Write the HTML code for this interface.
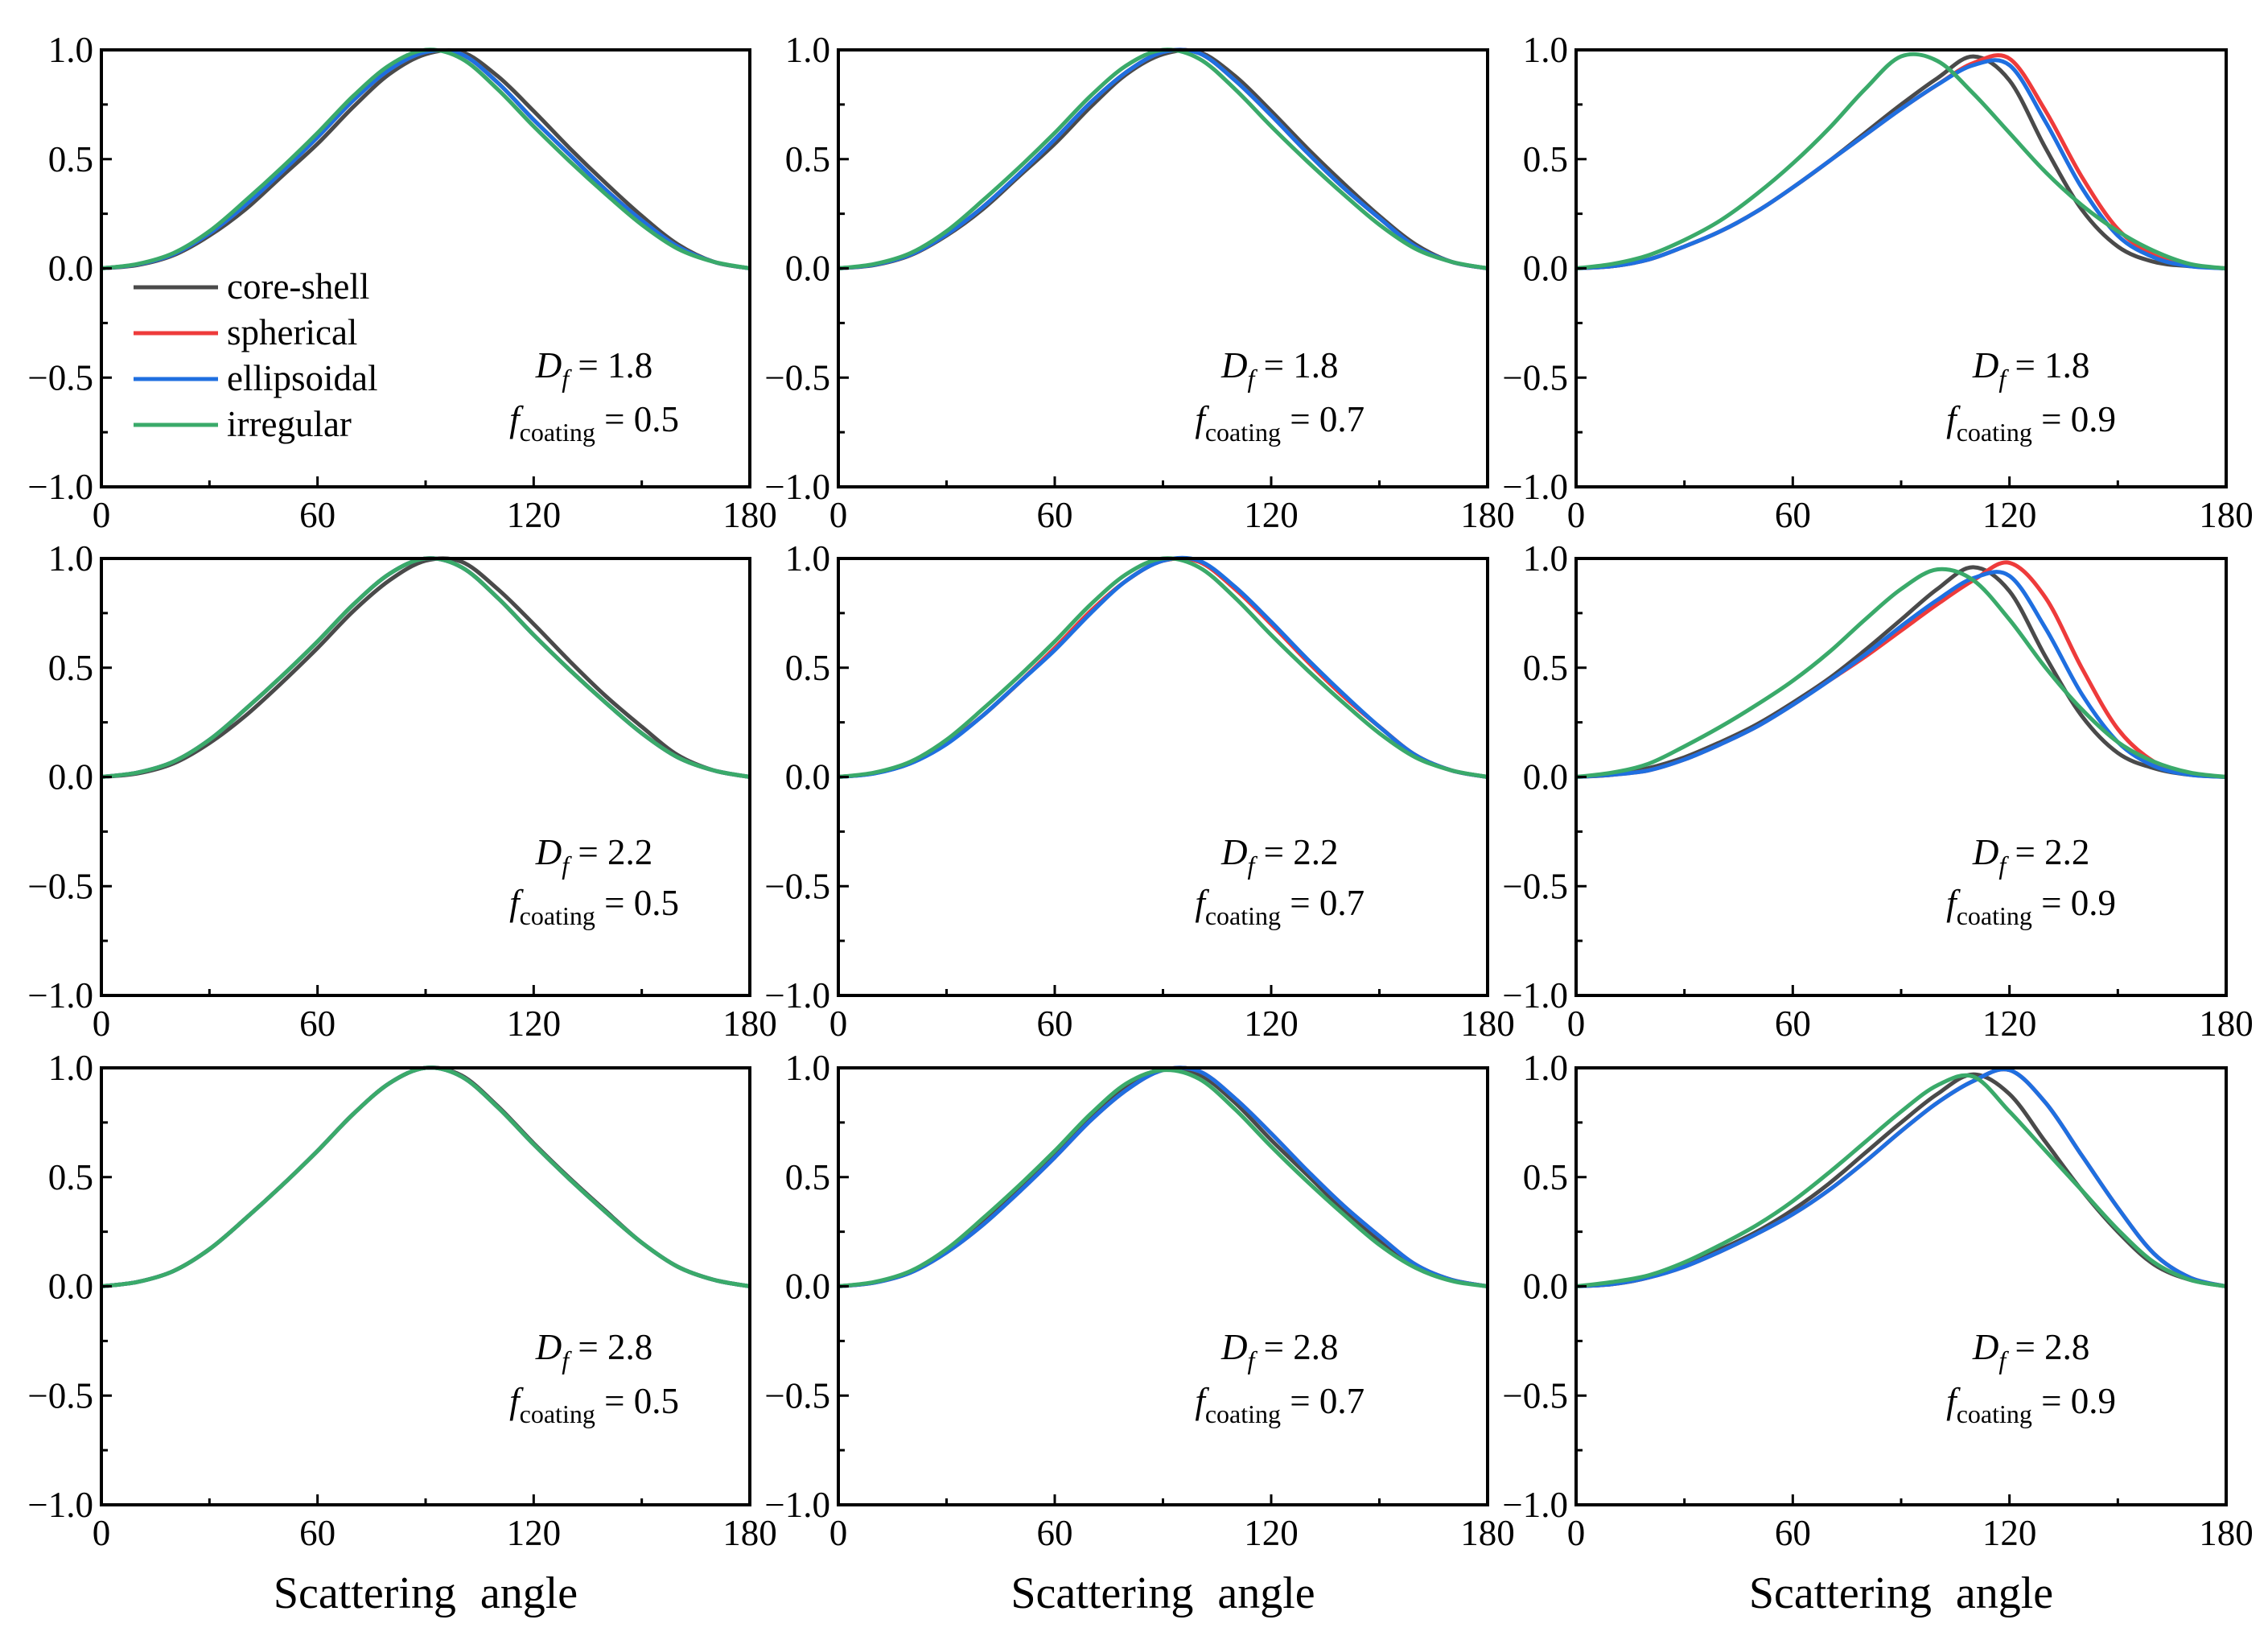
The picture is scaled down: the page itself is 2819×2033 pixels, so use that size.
<!DOCTYPE html>
<html><head><meta charset="utf-8"><style>
html,body{margin:0;padding:0;background:#fff}
svg{display:block}
text{font-family:"Liberation Serif",serif;fill:#000}
</style></head><body>
<svg id="fig" width="2819" height="2033" viewBox="0 0 2819 2033" xmlns="http://www.w3.org/2000/svg"></svg>
<script>
// ---- data ----
const angles=[0,10,20,30,40,50,60,70,80,90,100,110,120,130,140,150,160,170,180];
const seriesNames=["core-shell","spherical","ellipsoidal","irregular"];
const dfLabels=["1.8","1.8","1.8","2.2","2.2","2.2","2.8","2.8","2.8"];
const fcLabels=["0.5","0.7","0.9","0.5","0.7","0.9","0.5","0.7","0.9"];
const xTicks=[0,60,120,180];
const yTicks=[-1.0,-0.5,0.0,0.5,1.0];
const yTickLabels=["\u22121.0","\u22120.5","0.0","0.5","1.0"];
// panel 1 (Df 1.8, f 0.5)
const p1cs=[0,.015,.06,.15,.27,.42,.57,.74,.89,.98,.99,.88,.72,.55,.39,.24,.11,.03,0];
const p1sp=[0,.018,.065,.16,.29,.44,.60,.77,.91,.99,.98,.85,.68,.52,.36,.22,.10,.03,0];
const p1el=[0,.018,.065,.16,.29,.44,.60,.77,.91,.99,.98,.85,.68,.52,.36,.22,.10,.03,0];
const p1ir=[0,.02,.07,.17,.31,.46,.62,.79,.93,1.0,.96,.82,.65,.49,.34,.20,.09,.03,0];
// panel 2 (Df 1.8, f 0.7)
const p2cs=[0,.015,.06,.15,.27,.42,.57,.74,.89,.98,.99,.88,.72,.55,.39,.24,.11,.03,0];
const p2sp=[0,.017,.063,.155,.28,.43,.59,.76,.90,.99,.985,.86,.70,.53,.37,.23,.10,.03,0];
const p2el=[0,.017,.063,.155,.28,.43,.59,.76,.90,.99,.985,.86,.70,.53,.37,.23,.10,.03,0];
const p2ir=[0,.02,.07,.17,.31,.46,.62,.79,.93,1.0,.96,.82,.65,.49,.34,.20,.09,.03,0];
// panel 3 (Df 1.8, f 0.9)
const p3cs=[0,.01,.04,.10,.17,.26,.37,.49,.62,.75,.87,.97,.86,.55,.27,.10,.03,.01,0];
const p3sp=[0,.01,.04,.10,.17,.26,.37,.49,.61,.73,.84,.94,.96,.72,.42,.18,.06,.015,0];
const p3el=[0,.01,.04,.10,.17,.26,.37,.49,.61,.73,.84,.93,.93,.67,.37,.15,.05,.01,0];
const p3ir=[0,.02,.06,.13,.22,.34,.48,.64,.82,.97,.95,.80,.62,.44,.29,.17,.08,.02,0];
// panel 4 (Df 2.2, f 0.5)
const p4cs=[0,.016,.062,.155,.28,.43,.59,.76,.90,.99,.985,.86,.70,.53,.37,.23,.10,.03,0];
const p4sp=[0,.02,.07,.17,.31,.46,.62,.79,.93,1.0,.96,.82,.65,.49,.34,.20,.09,.03,0];
const p4el=[0,.02,.07,.17,.31,.46,.62,.79,.93,1.0,.96,.82,.65,.49,.34,.20,.09,.03,0];
const p4ir=[0,.02,.07,.17,.31,.46,.62,.79,.93,1.0,.96,.82,.65,.49,.34,.20,.09,.03,0];
// panel 5 (Df 2.2, f 0.7)
const p5cs=[0,.017,.063,.155,.28,.43,.59,.76,.90,.99,.985,.86,.70,.53,.37,.23,.10,.03,0];
const p5sp=[0,.017,.063,.155,.28,.43,.59,.76,.90,.99,.985,.86,.70,.53,.37,.23,.10,.03,0];
const p5el=[0,.016,.062,.15,.28,.43,.58,.75,.90,.99,.99,.87,.71,.54,.38,.23,.10,.03,0];
const p5ir=[0,.02,.07,.17,.31,.46,.62,.79,.93,1.0,.96,.82,.65,.49,.34,.20,.09,.03,0];
// panel 6 (Df 2.2, f 0.9)
const p6cs=[0,.01,.04,.09,.16,.24,.34,.45,.58,.72,.86,.96,.85,.55,.28,.11,.04,.01,0];
const p6sp=[0,.01,.03,.08,.15,.23,.33,.44,.55,.67,.79,.90,.98,.82,.50,.22,.07,.015,0];
const p6el=[0,.01,.03,.08,.15,.23,.33,.44,.56,.69,.81,.91,.92,.68,.38,.16,.05,.01,0];
const p6ir=[0,.02,.06,.14,.23,.33,.44,.57,.72,.86,.95,.90,.72,.50,.31,.16,.07,.02,0];
// panel 7 (Df 2.8, f 0.5)
const p7cs=[0,.02,.07,.17,.31,.46,.62,.79,.93,1.0,.965,.825,.655,.495,.345,.20,.09,.03,0];
const p7sp=[0,.02,.07,.17,.31,.46,.62,.79,.93,1.0,.96,.82,.65,.49,.34,.20,.09,.03,0];
const p7el=[0,.02,.07,.17,.31,.46,.62,.79,.93,1.0,.96,.82,.65,.49,.34,.20,.09,.03,0];
const p7ir=[0,.02,.07,.17,.31,.46,.62,.79,.93,1.0,.96,.82,.65,.49,.34,.20,.09,.03,0];
// panel 8 (Df 2.8, f 0.7)
const p8cs=[0,.018,.066,.16,.30,.45,.61,.78,.92,.995,.97,.84,.67,.51,.35,.21,.095,.03,0];
const p8sp=[0,.017,.063,.155,.28,.43,.59,.76,.90,.99,.985,.86,.70,.53,.37,.23,.10,.03,0];
const p8el=[0,.017,.063,.155,.28,.43,.59,.76,.90,.99,.985,.86,.70,.53,.37,.23,.10,.03,0];
const p8ir=[0,.02,.07,.17,.31,.46,.62,.79,.93,.99,.95,.81,.64,.48,.33,.19,.085,.025,0];
// panel 9 (Df 2.8, f 0.9)
const p9cs=[0,.01,.04,.10,.17,.25,.35,.47,.61,.75,.88,.97,.88,.66,.44,.25,.10,.03,0];
const p9sp=[0,.01,.04,.09,.16,.24,.33,.44,.57,.71,.84,.94,.99,.84,.60,.36,.15,.04,0];
const p9el=[0,.01,.04,.09,.16,.24,.33,.44,.57,.71,.84,.94,.99,.84,.60,.36,.15,.04,0];
const p9ir=[0,.02,.05,.11,.19,.28,.39,.52,.66,.80,.92,.96,.80,.62,.44,.26,.11,.03,0];

const panelData=[[p1cs,p1sp,p1el,p1ir],[p2cs,p2sp,p2el,p2ir],[p3cs,p3sp,p3el,p3ir],
 [p4cs,p4sp,p4el,p4ir],[p5cs,p5sp,p5el,p5ir],[p6cs,p6sp,p6el,p6ir],
 [p7cs,p7sp,p7el,p7ir],[p8cs,p8sp,p8el,p8ir],[p9cs,p9sp,p9el,p9ir]];

// ---- layout ----
const colors=["#4a4a4a","#ee3b3b","#1f6fe0","#3aaa6a"];
const colX=[[126,932],[1042,1849],[1959,2767]];
const rowY=[[62,605],[694,1237],[1327,1870]];
const annoD=[392,365,347], annoF=[459,428,414];
const annoFrac=[0.76,0.68,0.70];
const NS="http://www.w3.org/2000/svg";
const svg=document.getElementById('fig');
function mk(tag,attrs,parent){const e=document.createElementNS(NS,tag);for(const k in attrs)e.setAttribute(k,attrs[k]);(parent||svg).appendChild(e);return e;}
function smooth(pts){let d="M"+pts[0][0].toFixed(1)+","+pts[0][1].toFixed(1);
 for(let i=0;i<pts.length-1;i++){const p0=pts[Math.max(0,i-1)],p1=pts[i],p2=pts[i+1],p3=pts[Math.min(pts.length-1,i+2)];
  const c1=[p1[0]+(p2[0]-p0[0])/6,p1[1]+(p2[1]-p0[1])/6],c2=[p2[0]-(p3[0]-p1[0])/6,p2[1]-(p3[1]-p1[1])/6];
  d+="C"+c1[0].toFixed(1)+","+c1[1].toFixed(1)+" "+c2[0].toFixed(1)+","+c2[1].toFixed(1)+" "+p2[0].toFixed(1)+","+p2[1].toFixed(1);}
 return d;}

for(let p=0;p<9;p++){
 const r=Math.floor(p/3),c=p%3;
 const [x0,x1]=colX[c],[y0,y1]=rowY[r];
 const xs=v=>x0+(v/180)*(x1-x0);
 const ys=v=>y1-((v+1)/2)*(y1-y0);
 const g=mk('g',{});
 
 
 const gl=mk('g',{},g);
 panelData[p].forEach((arr,s)=>{
  const pts=arr.map((v,i)=>[xs(angles[i]),ys(v)]);
  const path=mk('path',{d:smooth(pts),fill:'none',stroke:colors[s],'stroke-width':5,'stroke-linejoin':'round'},gl);
  
  
 });
 const fr=mk('rect',{x:x0,y:y0,width:x1-x0,height:y1-y0,fill:'none',stroke:'#000','stroke-width':4},g);
 
 
 [0,30,60,90,120,150,180].forEach(t=>{const maj=t%60===0;mk('line',{x1:xs(t),x2:xs(t),y1:y1,y2:y1-(maj?13:8),stroke:'#000','stroke-width':3},g);});
 xTicks.forEach(t=>{const tx=mk('text',{x:xs(t),y:y1+50,'font-size':45,'text-anchor':'middle'},g);tx.textContent=t;
  
  });
 [-1,-.75,-.5,-.25,0,.25,.5,.75,1].forEach(t=>{const maj=Math.abs(t*2-Math.round(t*2))<1e-6;mk('line',{x1:x0,x2:x0+(maj?13:8),y1:ys(t),y2:ys(t),stroke:'#000','stroke-width':3},g);});
 yTicks.forEach((t,i)=>{const tx=mk('text',{x:x0-10,y:ys(t)+15,'font-size':45,'text-anchor':'end'},g);tx.textContent=yTickLabels[i];
  
  });
 const cx=x0+(x1-x0)*annoFrac[c];
 const t1=mk('text',{x:cx,y:y0+annoD[r]+15,'font-size':45,'text-anchor':'middle'},g);
 
 
 t1.innerHTML='<tspan font-style="italic">D</tspan><tspan font-style="italic" font-size="32" dy="12">f</tspan><tspan dy="-12"> = '+dfLabels[p]+'</tspan>';
 const t2=mk('text',{x:cx,y:y0+annoF[r]+15,'font-size':45,'text-anchor':'middle'},g);
 
 
 t2.innerHTML='<tspan font-style="italic">f</tspan><tspan font-size="32" dy="12">coating</tspan><tspan dy="-12"> = '+fcLabels[p]+'</tspan>';
 if(r===2){const xl=mk('text',{x:(x0+x1)/2,y:1998,'font-size':56,'text-anchor':'middle','word-spacing':'16'},g);xl.textContent='Scattering angle';
  
  }
}
const lg=mk('g',{});


const legY=[357,414,471,528];
seriesNames.forEach((n,i)=>{
 const e=mk('g',{},lg);
 
 
 mk('line',{x1:166,x2:271,y1:legY[i],y2:legY[i],stroke:colors[i],'stroke-width':5},e);
 const t=mk('text',{x:282,y:legY[i]+14,'font-size':45},e);t.textContent=n;
});
</script>
</body></html>
